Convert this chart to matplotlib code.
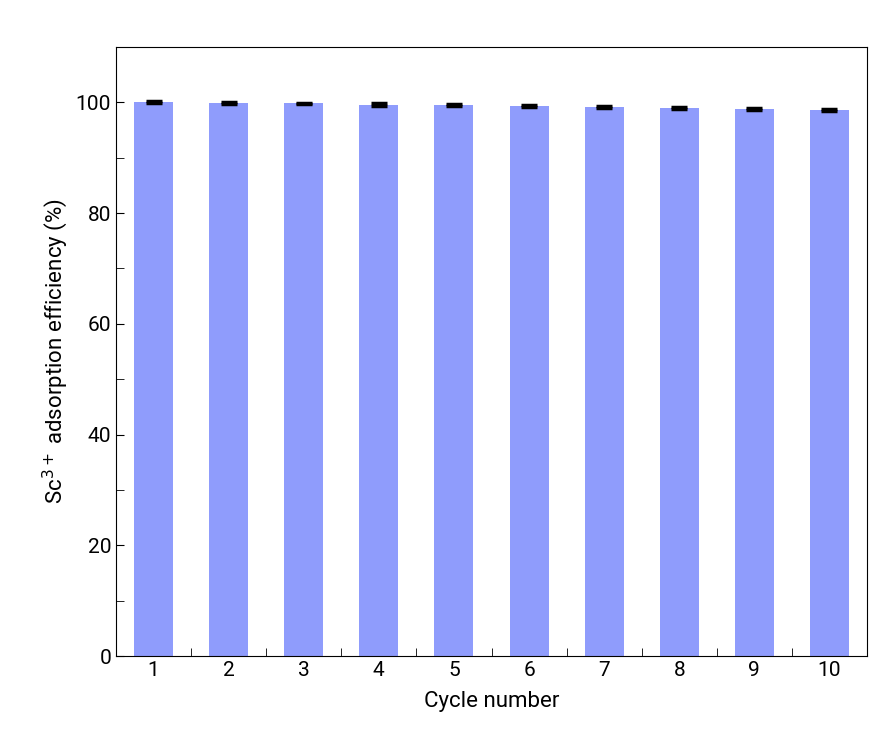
import matplotlib
matplotlib.use("Agg")
import matplotlib.pyplot as plt
from matplotlib.ticker import MultipleLocator

cycles = [1, 2, 3, 4, 5, 6, 7, 8, 9, 10]
efficiency = [100.0, 99.9, 99.8, 99.6, 99.5, 99.4, 99.2, 99.0, 98.8, 98.6]
errors = [0.2, 0.2, 0.15, 0.2, 0.15, 0.2, 0.2, 0.2, 0.2, 0.2]

plt.rcParams["font.family"] = "Roboto"
plt.rcParams["font.size"] = 15

fig = plt.figure(figsize=(8.71, 7.36), dpi=100)
ax = fig.add_axes([116 / 871, 80 / 736, 751 / 871, 609 / 736])

ax.bar(cycles, efficiency, width=0.52, color="#8f9cfc", zorder=2)
ax.errorbar(cycles, efficiency, yerr=errors, fmt="none", ecolor="black",
            elinewidth=1.5, capsize=6, capthick=2.5, zorder=3)

ax.set_xlim(0.5, 10.5)
ax.set_ylim(0, 110)
ax.set_xticks(cycles)
ax.xaxis.set_minor_locator(MultipleLocator(0.5))
ax.yaxis.set_major_locator(MultipleLocator(20))
ax.yaxis.set_minor_locator(MultipleLocator(10))
ax.tick_params(which="both", direction="in", top=False, right=False)
ax.tick_params(which="major", length=6, labelsize=15)
ax.tick_params(which="minor", length=6)

ax.set_xlabel("Cycle number", fontsize=16, labelpad=8)
ax.set_ylabel("Sc$^{3+}$ adsorption efficiency (%)", fontsize=16)

fig.savefig("out.png", dpi=100)
